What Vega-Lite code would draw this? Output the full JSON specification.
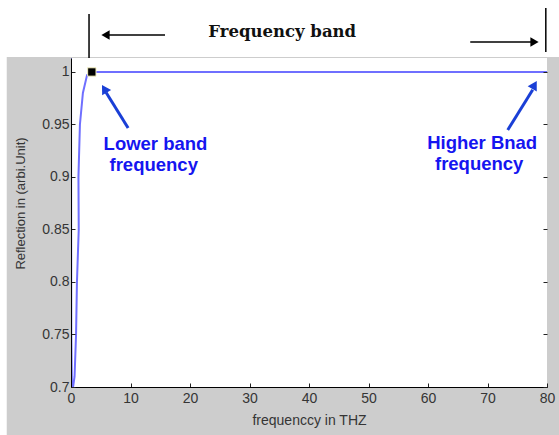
{
  "$schema": "https://vega.github.io/schema/vega-lite/v6.json",
  "width": 476,
  "height": 329,
  "autosize": {"type": "none"},
  "padding": {"left": 71, "top": 58, "right": 12, "bottom": 48},
  "background": "white",
  "config": {
    "view": {"stroke": null},
    "axis": {"labelFont": "Liberation Sans", "titleFont": "Liberation Sans", "labelColor": "#353535", "titleColor": "#353535", "labelFontSize": 14, "titleFontSize": 14, "titleFontWeight": "normal", "domainColor": "#000000", "tickColor": "#222222", "grid": false}
  },
  "datasets": {
    "panel": [{"x": -10.8, "x2": 82.1, "y": 0.6543, "y2": 1.0143}],
    "plot": [{"x": 0, "x2": 80, "y": 0.7, "y2": 1.0133}],
    "curve": [
      {"i": 1, "f": 0.0, "r": 1.013},
      {"i": 2, "f": 0.05, "r": 0.75},
      {"i": 3, "f": 0.15, "r": 0.705},
      {"i": 4, "f": 0.35, "r": 0.7},
      {"i": 5, "f": 0.6, "r": 0.71},
      {"i": 6, "f": 0.85, "r": 0.75},
      {"i": 7, "f": 1.0, "r": 0.8},
      {"i": 8, "f": 1.3, "r": 0.85},
      {"i": 9, "f": 1.25, "r": 0.9},
      {"i": 10, "f": 1.5, "r": 0.95},
      {"i": 11, "f": 2.0, "r": 0.98},
      {"i": 12, "f": 2.7, "r": 0.997},
      {"i": 13, "f": 3.5, "r": 1.0},
      {"i": 14, "f": 80, "r": 1.0}
    ],
    "marker": [{"f": 3.5, "r": 1.0}],
    "bands": [
      {"x": 3.03, "y": 1.0133, "y2": 1.0552},
      {"x": 79.8, "y": 1.019, "y2": 1.061}
    ],
    "blackArrows": [
      {"x": 15.8, "x2": 6.3, "y": 1.0352, "tx": 5.8, "shape": "triangle-left"},
      {"x": 67.1, "x2": 77.4, "y": 1.0286, "tx": 77.9, "shape": "triangle-right"}
    ],
    "blueArrows": [
      {"x": 9.6, "y": 0.9467, "x2": 5.9, "y2": 0.9805, "hx": 5.6, "hy": 0.984, "angle": -31},
      {"x": 73.4, "y": 0.9448, "x2": 77.6, "y2": 0.983, "hx": 77.9, "hy": 0.9876, "angle": 30}
    ],
    "labels": [
      {"x": 14.2, "y": 0.9314, "t": "Lower band"},
      {"x": 13.9, "y": 0.9114, "t": "frequency"},
      {"x": 69.1, "y": 0.9324, "t": "Higher Bnad"},
      {"x": 68.6, "y": 0.9124, "t": "frequency"}
    ],
    "title": [{"x": 35.5, "y": 1.0381, "t": "Frequency band"}]
  },
  "layer": [
    {
      "data": {"name": "panel"},
      "mark": {"type": "rect", "fill": "#cdcdcd", "clip": false},
      "encoding": {
        "x": {"field": "x", "type": "quantitative", "scale": {"domain": [0, 80], "nice": false}, "title": "frequenccy in THZ",
          "axis": {"zindex": 2, "values": [0, 10, 20, 30, 40, 50, 60, 70, 80], "tickSize": -4, "labelPadding": 8, "titlePadding": 8, "labelFlush": false}},
        "x2": {"field": "x2"},
        "y": {"field": "y", "type": "quantitative", "scale": {"domain": [0.7, 1.0133], "nice": false, "zero": false}, "title": "Reflection in (arbi.Unit)",
          "axis": {"zindex": 2, "values": [0.7, 0.75, 0.8, 0.85, 0.9, 0.95, 1.0], "format": ".2~f", "tickSize": -4, "labelPadding": 6, "titleFontSize": 13, "titleX": -51, "titleY": 145, "titleBaseline": "middle", "titleAlign": "center", "titleAngle": -90}},
        "y2": {"field": "y2"}
      }
    },
    {
      "data": {"name": "plot"},
      "mark": {"type": "rect", "fill": "white"},
      "encoding": {
        "x": {"field": "x", "type": "quantitative"},
        "x2": {"field": "x2"},
        "y": {"field": "y", "type": "quantitative", "axis": {"zindex": 2, "orient": "right", "values": [0.7, 0.75, 0.8, 0.85, 0.9, 0.95, 1.0], "labels": false, "tickSize": -4, "title": null, "domain": false}},
        "y2": {"field": "y2"}
      }
    },
    {
      "data": {"name": "curve"},
      "mark": {"type": "line", "color": "#6f6fff", "strokeWidth": 2, "clip": true},
      "encoding": {
        "x": {"field": "f", "type": "quantitative"},
        "y": {"field": "r", "type": "quantitative", "axis": null},
        "order": {"field": "i"}
      }
    },
    {
      "data": {"name": "marker"},
      "mark": {"type": "point", "shape": "square", "filled": true, "color": "black", "size": 70, "stroke": "#f4f0c0", "strokeWidth": 1, "opacity": 1},
      "encoding": {
        "x": {"field": "f", "type": "quantitative"},
        "y": {"field": "r", "type": "quantitative", "axis": null}
      }
    },
    {
      "data": {"name": "bands"},
      "mark": {"type": "rule", "color": "black", "strokeWidth": 1.5, "clip": false},
      "encoding": {
        "x": {"field": "x", "type": "quantitative"},
        "y": {"field": "y", "type": "quantitative", "axis": null},
        "y2": {"field": "y2"}
      }
    },
    {
      "data": {"name": "blackArrows"},
      "mark": {"type": "rule", "color": "black", "strokeWidth": 1.5, "clip": false},
      "encoding": {
        "x": {"field": "x", "type": "quantitative"},
        "x2": {"field": "x2"},
        "y": {"field": "y", "type": "quantitative", "axis": null}
      }
    },
    {
      "data": {"name": "blackArrows"},
      "mark": {"type": "point", "filled": true, "color": "black", "size": 90, "opacity": 1, "clip": false},
      "encoding": {
        "x": {"field": "tx", "type": "quantitative"},
        "y": {"field": "y", "type": "quantitative", "axis": null},
        "shape": {"field": "shape", "type": "nominal", "scale": null, "legend": null}
      }
    },
    {
      "data": {"name": "blueArrows"},
      "mark": {"type": "rule", "color": "#1a3fd6", "strokeWidth": 3},
      "encoding": {
        "x": {"field": "x", "type": "quantitative"},
        "x2": {"field": "x2"},
        "y": {"field": "y", "type": "quantitative", "axis": null},
        "y2": {"field": "y2"}
      }
    },
    {
      "data": {"name": "blueArrows"},
      "mark": {"type": "point", "shape": "triangle-up", "filled": true, "color": "#1a3fd6", "size": 110, "opacity": 1},
      "encoding": {
        "x": {"field": "hx", "type": "quantitative"},
        "y": {"field": "hy", "type": "quantitative", "axis": null},
        "angle": {"field": "angle", "type": "quantitative", "scale": null}
      }
    },
    {
      "data": {"name": "labels"},
      "mark": {"type": "text", "font": "Liberation Sans", "fontWeight": "bold", "fontSize": 18.5, "color": "#1515f0", "align": "center", "baseline": "middle"},
      "encoding": {
        "x": {"field": "x", "type": "quantitative"},
        "y": {"field": "y", "type": "quantitative", "axis": null},
        "text": {"field": "t"}
      }
    },
    {
      "data": {"name": "title"},
      "mark": {"type": "text", "font": "DejaVu Serif", "fontWeight": "bold", "fontSize": 16.5, "color": "#111111", "align": "center", "baseline": "middle", "clip": false},
      "encoding": {
        "x": {"field": "x", "type": "quantitative"},
        "y": {"field": "y", "type": "quantitative", "axis": null},
        "text": {"field": "t"}
      }
    }
  ],
  "resolve": {"axis": {"y": "independent"}}
}
